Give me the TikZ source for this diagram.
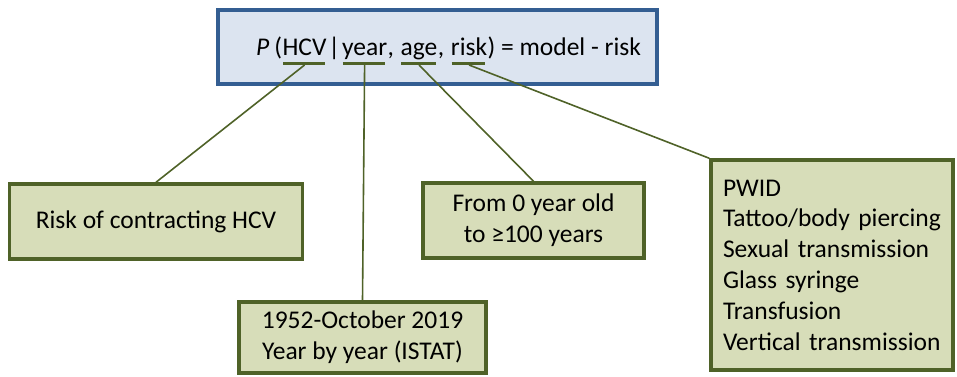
\documentclass[tikz,border=0pt]{standalone}
\usepackage{fontspec}
\setmainfont{Carlito}
\usetikzlibrary{calc}
\definecolor{bfill}{RGB}{220,228,240}
\definecolor{bline}{RGB}{52,94,146}
\definecolor{gfill}{RGB}{215,221,185}
\definecolor{gline}{RGB}{79,98,40}
\begin{document}
\begin{tikzpicture}[x=1pt,y=-1pt,
  gbox/.style={draw=gline,fill=gfill,line width=3.5pt,inner sep=0pt,font=\fontsize{25.5}{30.8}\selectfont,align=center},
  word/.style={anchor=base west,inner sep=0pt,font=\fontsize{25.5}{30}\selectfont},
  uline/.style={draw=gline,line width=3pt},
  conn/.style={draw=gline,line width=1.6pt}]
\useasboundingbox (0,0) rectangle (957,376);
% top box
\node[draw=bline,fill=bfill,line width=3.5pt,minimum width=439pt,minimum height=74pt,inner sep=0pt] (top) at (437.5,47) {};
\node[word] (p) at (256,55) {\textit{P}\kern0.2em(};
\node[word] (hcv) at (p.base east) {HCV};
\node[word] (bar) at (hcv.base east) {\kern1.5pt|\kern1.5pt};
\node[word] (year) at (bar.base east) {year};
\node[word] (c1) at (year.base east) {,\kern0.25em};
\node[word] (age) at (c1.base east) {age};
\node[word] (c2) at (age.base east) {,\kern0.25em};
\node[word] (risk) at (c2.base east) {risk};
\node[word] (rest) at (risk.base east) {)~=~model~-~risk};
% underlines
\foreach \w in {hcv,year,age,risk}{
  \draw[uline] ($(\w.base west)+(1,8)$) -- ($(\w.base east)+(-2,8)$);
  \coordinate (u\w) at ($(\w.base)+(0,10)$);
}
% boxes
\node[gbox,minimum width=293pt,minimum height=75pt] (b1) at (156,221.5) {Risk of contracting HCV};
\node[gbox,minimum width=221pt,minimum height=75pt] (b3) at (533.5,220.5) {From 0 year old\\to ≥100 years};
\node[gbox,minimum width=247pt,minimum height=71pt] (b2) at (362.5,337.5) {1952-October 2019\\Year by year (ISTAT)};
\node[gbox,minimum width=242pt,minimum height=210pt,text width=218pt,align=left] (b4) at (832,265) {PWID\\Tattoo/body piercing\\Sexual transmission\\Glass syringe\\Transfusion\\Vertical transmission};
% connectors
\draw[conn] (uhcv) -- (b1.north);
\draw[conn] (uyear) -- (b2.north);
\draw[conn] (uage) -- (b3.north);
\draw[conn] (urisk) -- (b4.north west);
\end{tikzpicture}
\end{document}
